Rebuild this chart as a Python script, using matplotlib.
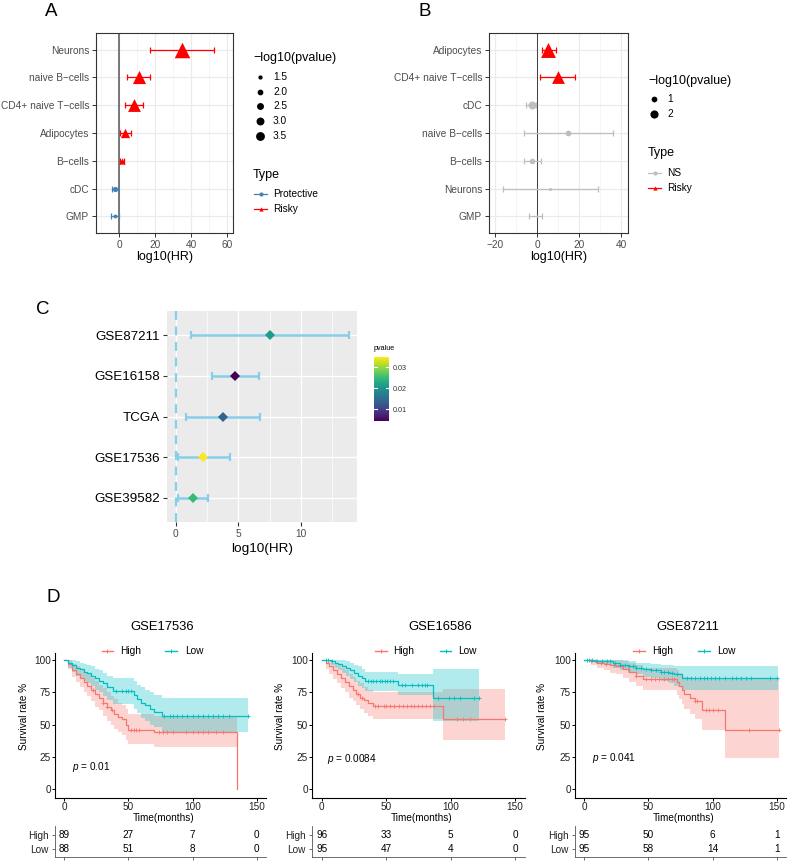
import matplotlib
matplotlib.use("Agg")
import matplotlib.pyplot as plt
import numpy as np
from matplotlib.lines import Line2D
from matplotlib import cm, colors

plt.rcParams['font.family'] = ['Liberation Sans', 'DejaVu Sans']
plt.rcParams['mathtext.fontset'] = 'custom'
plt.rcParams['mathtext.it'] = 'Liberation Sans:italic'
plt.rcParams['mathtext.rm'] = 'Liberation Sans'

# ---------------- data ----------------
# A
a_cells = ["GMP", "cDC", "B−cells", "Adipocytes", "CD4+ naive T−cells", "naive B−cells", "Neurons"]
a_hr = [-2.0, -2.2, 1.5, 3.5, 8.5, 11.0, 35.0]
a_low = [-4.2, -4.0, 0.5, 0.5, 3.5, 4.5, 17.0]
a_high = [-0.3, -0.5, 2.8, 6.8, 13.5, 17.0, 53.0]
a_logp = [1.4, 1.8, 1.35, 1.9, 2.8, 2.9, 3.7]
a_type = ["Protective", "Protective", "Risky", "Risky", "Risky", "Risky", "Risky"]
a_size_breaks = [1.5, 2.0, 2.5, 3.0, 3.5]

# B
b_cells = ["GMP", "Neurons", "B−cells", "naive B−cells", "cDC", "CD4+ naive T−cells", "Adipocytes"]
b_hr = [0.0, 6.2, -2.2, 14.8, -2.5, 9.8, 5.4]
b_low = [-3.6, -16.3, -6.2, -6.2, -5.4, 1.4, 2.2]
b_high = [2.5, 29.0, 1.9, 35.9, -0.6, 18.0, 8.9]
b_logp = [0.15, 0.3, 0.95, 1.0, 1.9, 1.7, 2.3]
b_type = ["NS", "NS", "NS", "NS", "NS", "Risky", "Risky"]
b_size_breaks = [1, 2]

# C
c_sets = ["GSE39582", "GSE17536", "TCGA", "GSE16158", "GSE87211"]
c_hr = [1.35, 2.2, 3.8, 4.75, 7.5]
c_low = [0.15, 0.15, 0.8, 2.9, 1.2]
c_high = [2.6, 4.35, 6.75, 6.65, 13.8]
c_p = [0.025, 0.035, 0.014, 0.0043, 0.021]

# D  (step knots: time, survival, lower CI, upper CI)
d_titles = ["GSE17536", "GSE16586", "GSE87211"]
d_pvals = ["0.01", "0.0084", "0.041"]

d1_high_t = [0, 3, 6, 9, 12, 15, 18, 21, 24, 27, 30, 33, 36, 39, 42, 45, 48, 50, 70, 134.5]
d1_high_s = [100, 97, 92, 89, 86, 83, 80, 77, 74, 71, 67, 64, 61, 58, 56, 54, 50, 46, 44, 0]
d1_high_lo = [100, 93, 87, 83, 79, 75, 72, 68, 64, 61, 57, 53, 50, 47, 44, 42, 38, 35, 33, 33]
d1_high_up = [100, 100, 97, 95, 93, 91, 89, 86, 84, 81, 78, 75, 72, 70, 67, 65, 62, 58, 57, 57]
d1_high_end = 134.5
d1_high_cens = [22, 30, 33, 37, 52, 54, 56, 58, 74, 77, 80, 85, 95, 100, 104, 108, 112, 118, 124]

d1_low_t = [0, 3, 6, 9, 12, 15, 18, 21, 24, 27, 30, 33, 38, 54, 57, 60, 63, 67, 70, 76]
d1_low_s = [100, 98, 96, 94, 93, 91, 90, 88, 86, 84, 82, 79, 76, 73, 70, 67, 65, 62, 60, 57]
d1_low_lo = [100, 94, 91, 88, 86, 84, 82, 80, 77, 75, 72, 69, 66, 62, 59, 55, 53, 50, 48, 44]
d1_low_up = [100, 100, 100, 99, 98, 97, 96, 95, 93, 92, 90, 88, 86, 84, 81, 79, 77, 75, 73, 71]
d1_low_end = 143
d1_low_cens = [40, 45, 48, 50, 52, 78, 82, 85, 88, 92, 96, 100, 104, 108, 112, 116, 120, 124, 128, 143]

d2_high_t = [0, 3, 6, 9, 12, 15, 18, 21, 24, 27, 30, 33, 36, 40, 94]
d2_high_s = [100, 98, 95, 92, 89, 86, 83, 80, 77, 74, 71, 69, 67, 64.5, 54.5]
d2_high_lo = [100, 93, 89, 85, 82, 78, 75, 71, 68, 65, 62, 59, 57, 54.5, 38.5]
d2_high_up = [100, 100, 100, 98, 96, 94, 92, 89, 87, 84, 82, 79, 77, 75, 77.5]
d2_high_end = 142
d2_high_cens = [28, 31, 41, 44, 48, 50, 53, 56, 60, 63, 66, 69, 72, 75, 78, 81, 84, 87, 105, 110, 115, 142]

d2_low_t = [0, 7, 10, 13, 16, 19, 22, 25, 28, 31, 34, 59, 86]
d2_low_s = [100, 99, 98, 97, 95.5, 94, 92, 90, 88, 86, 84, 81, 70.5]
d2_low_lo = [100, 96, 94, 92, 90, 88, 85, 83, 80, 78, 76, 73, 53]
d2_low_up = [100, 100, 100, 100, 100, 99, 98, 96, 95, 93, 91, 89, 93]
d2_low_end = 122
d2_low_cens = [3, 5, 8, 36, 38, 40, 42, 45, 47, 49, 51, 53, 55, 62, 65, 70, 75, 78, 80, 82, 90, 99, 103, 107, 118, 122]

d3_high_t = [0, 5, 10, 15, 20, 25, 30, 35, 40, 46, 72, 74, 76, 78, 82, 86, 92, 110]
d3_high_s = [100, 99, 98, 97, 96, 95.5, 93, 91, 88, 85.5, 83, 80, 77, 74, 71, 68, 61, 46]
d3_high_lo = [100, 96, 94, 92, 90, 89, 86, 83, 80, 77, 73, 70, 66, 62, 58, 54, 46, 24.5]
d3_high_up = [100, 100, 100, 100, 100, 100, 99, 98, 96, 94, 92, 90, 88, 87, 86, 85, 85, 85]
d3_high_end = 152
d3_high_cens = [5, 9, 13, 17, 23, 29, 34, 40, 48, 52, 55, 58, 62, 65, 68, 70, 86, 88, 95, 97, 100, 104, 128, 152]

d3_low_t = [0, 8, 15, 22, 28, 34, 40, 46, 52, 60, 66, 70, 76]
d3_low_s = [100, 99.5, 99, 98, 96.5, 95, 94, 93, 92, 91, 90, 89, 86]
d3_low_lo = [100, 98, 96, 94, 92, 90, 89, 87, 86, 84, 82, 80, 76.5]
d3_low_up = [100, 100, 100, 100, 100, 99, 98, 97.5, 97, 96.5, 96, 95.5, 95]
d3_low_end = 151
d3_low_cens = [2, 4, 6, 10, 14, 18, 20, 24, 28, 32, 35, 38, 40, 44, 48, 52, 56, 60, 62, 65, 68, 72,
               80, 83, 86, 90, 93, 96, 99, 102, 105, 110, 115, 118, 122, 126, 130, 145, 150]

risk_times = [0, 50, 100, 150]
d1_risk_high = [89, 27, 7, 0]
d1_risk_low = [88, 51, 8, 0]
d2_risk_high = [96, 33, 5, 0]
d2_risk_low = [95, 47, 4, 0]
d3_risk_high = [95, 50, 6, 1]
d3_risk_low = [95, 58, 14, 1]

# ---------------- helpers ----------------
W, H = 789, 861
fig = plt.figure(figsize=(W / 100, H / 100), dpi=100)

RED = "#FF0000"
BLUE = "#4682B4"
GREY = "#BEBEBE"
HIGHC = "#F8766D"
LOWC = "#00BFC4"
SKY = "#87CEEB"


def px_axes(x0, y0, x1, y1):
    return fig.add_axes([x0 / W, 1 - y1 / H, (x1 - x0) / W, (y1 - y0) / H])


def ftext(x, y, s, **kw):
    kw.setdefault("va", "center")
    fig.text(x / W, 1 - y / H, s, **kw)


def fmark(x, y, **kw):
    fig.add_artist(Line2D([x / W], [1 - y / H], transform=fig.transFigure, linestyle="none", **kw))


def fline(x0, x1, y, **kw):
    fig.add_artist(Line2D([x0 / W, x1 / W], [1 - y / H, 1 - y / H], transform=fig.transFigure, **kw))


def bw_style(ax):
    ax.set_facecolor("white")
    for sp in ax.spines.values():
        sp.set_color("#333333")
        sp.set_linewidth(0.8)
    ax.grid(True, which="major", color="#EBEBEB", lw=0.9, zorder=0)
    ax.grid(True, which="minor", axis="x", color="#F2F2F2", lw=0.5, zorder=0)
    ax.set_axisbelow(True)
    ax.tick_params(axis="both", which="major", length=3, width=0.7, color="#333333",
                   labelsize=7.3, labelcolor="#4D4D4D", pad=2)
    ax.tick_params(axis="both", which="minor", length=0)


def forest(ax, cells, hr, lo, hi, logp, types, cmap, size_fn):
    y = np.arange(1, len(cells) + 1)
    for i in range(len(cells)):
        c = cmap[types[i]]
        ax.errorbar(hr[i], y[i], xerr=[[hr[i] - lo[i]], [hi[i] - hr[i]]], fmt="none",
                    ecolor=c, elinewidth=0.9, capsize=2.2, capthick=0.9, zorder=3)
        d = size_fn(logp[i])
        if types[i] == "Risky":
            ax.scatter(hr[i], y[i], s=(1.7 * d * 0.72) ** 2, marker="^", color=c, zorder=4, linewidths=0)
        else:
            ax.scatter(hr[i], y[i], s=(d * 0.72) ** 2, marker="o", color=c, zorder=4, linewidths=0)
    ax.set_yticks(y)
    ax.set_yticklabels(cells)
    ax.set_ylim(0.4, len(cells) + 0.6)
    ax.set_xlabel("log10(HR)", fontsize=9, labelpad=1)


# ---------------- panel A ----------------
size_a = lambda v: np.sqrt(30 * v - 27)
axA = px_axes(96, 33, 233, 233)
bw_style(axA)
forest(axA, a_cells, a_hr, a_low, a_high, a_logp, a_type, {"Protective": BLUE, "Risky": RED}, size_a)
axA.axvline(0, color="#555555", lw=1.1, zorder=2)
axA.set_xlim(-12.8, 63.3)
axA.set_xticks([0, 20, 40, 60])
axA.set_xticks([-10, 10, 30, 50], minor=True)

ftext(45, 12, "A", fontsize=13.5)
ftext(253, 58, "−log10(pvalue)", fontsize=9)
for k, v in enumerate(a_size_breaks):
    yy = 77 + k * 14.7
    fmark(260, yy, marker="o", ms=size_a(v) * 0.72, color="black", mew=0)
    ftext(273, yy, f"{v:.1f}", fontsize=7.3)
ftext(253, 175, "Type", fontsize=9)
for yy, lab, c, mk in [(194, "Protective", BLUE, "o"), (209, "Risky", RED, "^")]:
    fline(254, 267, yy, color=c, lw=0.9)
    fmark(260.5, yy, marker=mk, ms=3, color=c, mew=0)
    ftext(273, yy, lab, fontsize=7.3)

# ---------------- panel B ----------------
size_b = lambda v: np.sqrt(max(-1.1 + 34 * v, 2.0))
axB = px_axes(489, 33, 628, 233)
bw_style(axB)
forest(axB, b_cells, b_hr, b_low, b_high, b_logp, b_type, {"NS": GREY, "Risky": RED}, size_b)
axB.axvline(0, color="#222222", lw=0.6, zorder=2)
axB.set_xlim(-22.7, 43.1)
axB.set_xticks([-20, 0, 20, 40])
axB.set_xticks([-10, 10, 30], minor=True)

ftext(418, 12, "B", fontsize=13.5)
ftext(648, 81, "−log10(pvalue)", fontsize=9)
for k, v in enumerate(b_size_breaks):
    yy = 99 + k * 15
    fmark(654, yy, marker="o", ms=size_b(v) * 0.72, color="black", mew=0)
    ftext(667, yy, str(v), fontsize=7.3)
ftext(648, 153, "Type", fontsize=9)
for yy, lab, c, mk in [(173, "NS", GREY, "o"), (188, "Risky", RED, "^")]:
    fline(648, 661, yy, color=c, lw=0.9)
    fmark(654.5, yy, marker=mk, ms=3, color=c, mew=0)
    ftext(667, yy, lab, fontsize=7.3)

# ---------------- panel C ----------------
axC = px_axes(167, 311, 357, 522)
axC.set_facecolor("#EBEBEB")
for sp in axC.spines.values():
    sp.set_visible(False)
norm = colors.Normalize(vmin=0.0043, vmax=0.035)
cmapv = plt.get_cmap("viridis")
yc = np.arange(1, len(c_sets) + 1)
axC.grid(True, which="major", color="white", lw=1.0, zorder=0)
axC.grid(True, which="minor", axis="x", color="white", lw=0.5, zorder=0)
axC.set_axisbelow(True)
axC.axvline(0, color=SKY, lw=1.6, ls=(0, (4, 3)), zorder=2)
for i in range(len(c_sets)):
    axC.errorbar(c_hr[i], yc[i], xerr=[[c_hr[i] - c_low[i]], [c_high[i] - c_hr[i]]], fmt="none",
                 ecolor=SKY, elinewidth=1.8, capsize=2.6, capthick=1.6, zorder=3)
    axC.plot(c_hr[i], yc[i], marker="D", ms=5.2, color=cmapv(norm(c_p[i])), mew=0, zorder=4)
axC.set_yticks(yc)
axC.set_yticklabels(c_sets, fontsize=9.6, color="black")
axC.set_xlim(-0.69, 14.47)
axC.set_ylim(0.41, len(c_sets) + 0.59)
axC.set_xticks([0, 5, 10])
axC.set_xticks([2.5, 7.5, 12.5], minor=True)
axC.tick_params(axis="x", which="major", labelsize=7.3, labelcolor="#4D4D4D", length=3, color="#333333", pad=2)
axC.tick_params(axis="y", which="major", length=3, color="#333333", pad=2)
axC.tick_params(which="minor", length=0)
axC.set_xlabel("log10(HR)", fontsize=9.7, labelpad=3)
ftext(36, 310, "C", fontsize=13.5)

cax = px_axes(374, 357, 389, 421)
cb = fig.colorbar(cm.ScalarMappable(norm=norm, cmap=cmapv), cax=cax)
cb.outline.set_visible(False)
cb.set_ticks([0.01, 0.02, 0.03])
cax.tick_params(length=0, labelsize=5.2, labelcolor="#333333", pad=3)
for v in [0.01, 0.02, 0.03]:
    cax.plot([0, 0.2], [v, v], color="white", lw=0.8)
    cax.plot([0.8, 1], [v, v], color="white", lw=0.8)
ftext(374, 348, "pvalue", fontsize=5.2)

# ---------------- panel D ----------------


def km(ax, t, s, lo, up, t_end, cens, color):
    tt = list(t) + [t_end]
    ss = list(s) + [s[-1]]
    ax.fill_between(tt, list(lo) + [lo[-1]], list(up) + [up[-1]], step="post", color=color,
                    alpha=0.3, lw=0)
    ax.step(tt, ss, where="post", color=color, lw=0.9)
    cs = [ss[np.searchsorted(t, c, side="right") - 1] for c in cens]
    ax.plot(cens, cs, "+", color=color, ms=3.5, mew=0.6)


curves = [
    ((d1_high_t, d1_high_s, d1_high_lo, d1_high_up, d1_high_end, d1_high_cens),
     (d1_low_t, d1_low_s, d1_low_lo, d1_low_up, d1_low_end, d1_low_cens),
     d1_risk_high, d1_risk_low),
    ((d2_high_t, d2_high_s, d2_high_lo, d2_high_up, d2_high_end, d2_high_cens),
     (d2_low_t, d2_low_s, d2_low_lo, d2_low_up, d2_low_end, d2_low_cens),
     d2_risk_high, d2_risk_low),
    ((d3_high_t, d3_high_s, d3_high_lo, d3_high_up, d3_high_end, d3_high_cens),
     (d3_low_t, d3_low_s, d3_low_lo, d3_low_up, d3_low_end, d3_low_cens),
     d3_risk_high, d3_risk_low),
]
d_x = [(54.7, 266.4), (312.0, 524.7), (574.7, 786.4)]
d_title_x = [161.7, 440, 688.3]
d_leg = [(101.7, 120, 165, 185), (375, 392.7, 440, 458.3), (633.3, 651.7, 698.3, 716.7)]
d_p_pos = [(72, 766.7), (326.7, 759.3), (591.7, 758.3)]
d_ylab_x = [24, 280, 541.7]

ftext(46, 598, "D", fontsize=13.5)
for k in range(3):
    x0, x1 = d_x[k]
    ax = px_axes(x0, 652.9, x1, 797.7)
    hi, lo_, rh, rl = curves[k]
    km(ax, *hi, HIGHC)
    km(ax, *lo_, LOWC)
    ax.set_xlim(-7.5, 157.5)
    ax.set_ylim(-6.5, 105.5)
    ax.set_xticks([0, 50, 100, 150])
    ax.set_yticks([0, 25, 50, 75, 100])
    for sp in ["top", "right"]:
        ax.spines[sp].set_visible(False)
    for sp in ["left", "bottom"]:
        ax.spines[sp].set_linewidth(0.8)
    ax.tick_params(length=2, width=0.7, labelsize=7.2, labelcolor="#222222", pad=0.8)
    ftext((x0 + x1) / 2 + 3, 818.3, "Time(months)", fontsize=7.2, ha="center")
    ftext(d_ylab_x[k], 716, "Survival rate %", fontsize=7.2, ha="center", rotation=90)
    ftext(d_title_x[k], 626.5, d_titles[k], fontsize=9.4, ha="center")
    a, b, c, d = d_leg[k]
    fline(a, a + 11.5, 650.7, color=HIGHC, lw=1.0)
    fmark(a + 5.75, 650.7, marker="+", ms=3.5, mew=0.7, color=HIGHC)
    ftext(b, 650.7, "High", fontsize=7.3)
    fline(c, c + 11.5, 650.7, color=LOWC, lw=1.0)
    fmark(c + 5.75, 650.7, marker="+", ms=3.5, mew=0.7, color=LOWC)
    ftext(d, 650.7, "Low", fontsize=7.3)
    px, py = d_p_pos[k]
    ftext(px, py, "$\\it{p}$ = " + d_pvals[k], fontsize=7.2)

    tab = px_axes(x0, 826, x1, 857)
    tab.set_xlim(-7.5, 157.5)
    tab.set_ylim(-0.54, 1.63)
    for sp in ["top", "right"]:
        tab.spines[sp].set_visible(False)
    for sp in ["left", "bottom"]:
        tab.spines[sp].set_linewidth(0.6)
        tab.spines[sp].set_color("#555555")
    tab.set_xticks(risk_times)
    tab.set_xticklabels([])
    tab.set_yticks([0, 1])
    tab.set_yticklabels(["Low", "High"])
    tab.tick_params(length=2.5, width=0.6, color="#555555", labelsize=7.2, labelcolor="#222222", pad=2)
    for j, tm in enumerate(risk_times):
        tab.text(tm, 1, str(rh[j]), ha="center", va="center", fontsize=7.2)
        tab.text(tm, 0, str(rl[j]), ha="center", va="center", fontsize=7.2)

fig.savefig("out.png", dpi=100)
